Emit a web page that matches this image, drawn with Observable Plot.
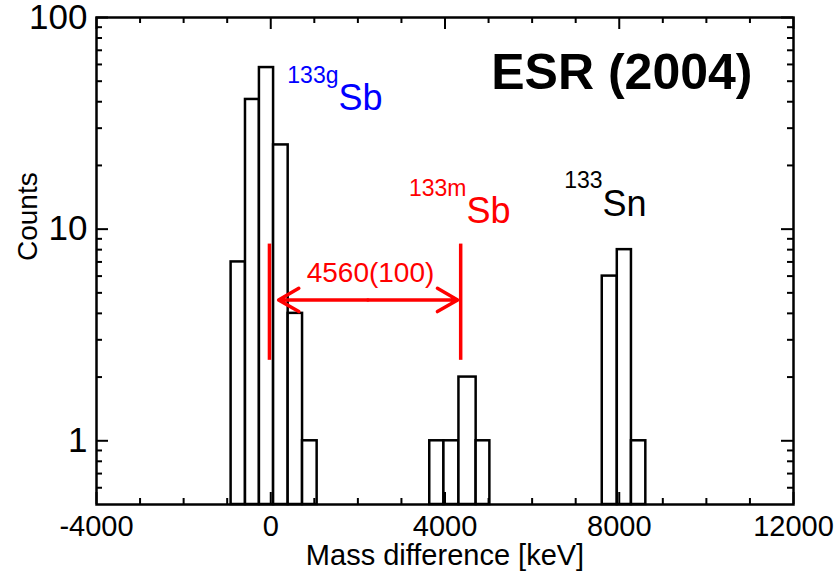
<!DOCTYPE html>
<html><head><meta charset="utf-8">
<script src="https://cdn.jsdelivr.net/npm/d3@7"></script>
<script src="https://cdn.jsdelivr.net/npm/@observablehq/plot@0.6"></script>
<style>body{margin:0;background:#fff}</style>
</head><body><div id="chart"></div>
<script>
// Histogram bins (keV) and counts
const binLo  = [-910, -580, -260, 65, 400, 730, 3650, 3975, 4320, 4715, 7610, 7955, 8280];
const binHi  = [-580, -260, 65, 400, 730, 1065, 3975, 4320, 4715, 5030, 7955, 8280, 8610];
const counts = [7, 41, 58, 25, 4, 1, 1, 1, 2, 1, 6, 8, 1];

// Axis ticks
const xMajor = [-4000, 0, 4000, 8000, 12000];
const xTickLabels = ["-4000", "0", "4000", "8000", "12000"];
const xMinor = [-3000, -2000, -1000, 1000, 2000, 3000, 5000, 6000, 7000, 9000, 10000, 11000];
const yMajor = [1, 10, 100];
const yTickLabels = ["1", "10", "100"];
const yMinor = [0.6, 0.7, 0.8, 0.9, 2, 3, 4, 5, 6, 7, 8, 9, 20, 30, 40, 50, 60, 70, 80, 90];

// Peak markers and mass-difference arrow
const markerX = [-30, 4360];
const markerLow = [2.4, 2.4];
const markerHigh = [8.5, 8.5];
const arrowMid = 2230;
const arrowEnds = [180, 4290];
const arrowY = 4.63;
const deltaLabel = "4560(100)";
const deltaLabelX = 2290;
const deltaLabelY = 5.6;

// Isotope labels
const isoMass = ["133g", "133m", "133"];
const isoElem = ["Sb", "Sb", "Sn"];
const isoX = [1555, 4494, 7616];
const isoSupY = [49.3, 14.3, 15.6];
const isoMainY = [36.4, 10.7, 11.6];
const isoColor = ["#0000ff", "#ff0000", "#000000"];

const W = 839, H = 579;
const mL = 96, mR = 46, mT = 17, mB = 75;
const fw = W - mL - mR, fh = H - mT - mB;
const sans = "'Liberation Sans', Arial, sans-serif";
const red = "#ff0000";
const idx = d3.range(counts.length);
const iso = d3.range(isoMass.length);

const chart = Plot.plot({
  width: W, height: H,
  marginLeft: mL, marginRight: mR, marginTop: mT, marginBottom: mB,
  style: {background: "#fff", color: "#000", fontFamily: sans},
  x: {domain: [-4000, 12000]},
  y: {type: "log", domain: [0.5, 100]},
  marks: [
    Plot.rect(idx, {x1: i => binLo[i], x2: i => binHi[i], y1: 0.5, y2: i => counts[i],
      fill: "white", stroke: "black", strokeWidth: 2.5}),
    // ticks (inward) on all four sides
    Plot.tickX(xMajor, {x: d => d, insetTop: fh - 12, stroke: "black", strokeWidth: 2}),
    Plot.tickX(xMinor, {x: d => d, insetTop: fh - 6, stroke: "black", strokeWidth: 2}),
    Plot.tickX(xMajor, {x: d => d, insetBottom: fh - 12, stroke: "black", strokeWidth: 2}),
    Plot.tickX(xMinor, {x: d => d, insetBottom: fh - 6, stroke: "black", strokeWidth: 2}),
    Plot.tickY(yMajor, {y: d => d, insetRight: fw - 12, stroke: "black", strokeWidth: 2}),
    Plot.tickY(yMinor, {y: d => d, insetRight: fw - 6, stroke: "black", strokeWidth: 2}),
    Plot.tickY(yMajor, {y: d => d, insetLeft: fw - 12, stroke: "black", strokeWidth: 2}),
    Plot.tickY(yMinor, {y: d => d, insetLeft: fw - 6, stroke: "black", strokeWidth: 2}),
    Plot.frame({stroke: "black", strokeWidth: 2.5}),
    Plot.axisX(xMajor, {tickSize: 0, tickPadding: 11, label: null, fontSize: 29,
      tickFormat: d => xTickLabels[xMajor.indexOf(d)]}),
    Plot.axisY(yMajor, {tickSize: 0, tickPadding: 9, label: null, fontSize: 35,
      tickFormat: d => yTickLabels[yMajor.indexOf(d)]}),
    Plot.text(["Mass difference [keV]"], {frameAnchor: "bottom", dy: 60, lineAnchor: "bottom",
      fontSize: 29, fill: "black"}),
    Plot.text(["Counts"], {frameAnchor: "left", dx: -68, rotate: -90, fontSize: 28, fill: "black"}),
    Plot.text(["ESR (2004)"], {frameAnchor: "top-right", dx: -41, dy: 71, lineAnchor: "bottom",
      textAnchor: "end", fontSize: 50, fontWeight: "bold", fill: "black"}),
    // peak markers and arrow
    Plot.ruleX(markerX, {x: d => d, y1: (d, i) => markerLow[i], y2: (d, i) => markerHigh[i], stroke: red, strokeWidth: 3.5}),
    Plot.arrow(arrowEnds, {x1: arrowMid, x2: d => d, y1: arrowY, y2: arrowY, stroke: red, strokeWidth: 3.5,
      headLength: 10, headAngle: 60}),
    Plot.text([deltaLabel], {x: deltaLabelX, y: deltaLabelY, lineAnchor: "bottom", fontSize: 28, fill: red}),
    // isotope labels
    Plot.text(iso, {x: i => isoX[i], y: i => isoSupY[i], text: i => isoMass[i], textAnchor: "end",
      lineAnchor: "bottom", fontSize: 23, fill: i => isoColor[i]}),
    Plot.text(iso, {x: i => isoX[i], y: i => isoMainY[i], text: i => isoElem[i], textAnchor: "start",
      lineAnchor: "bottom", fontSize: 36, fill: i => isoColor[i]})
  ]
});
document.getElementById("chart").appendChild(chart);
</script>
</body></html>
